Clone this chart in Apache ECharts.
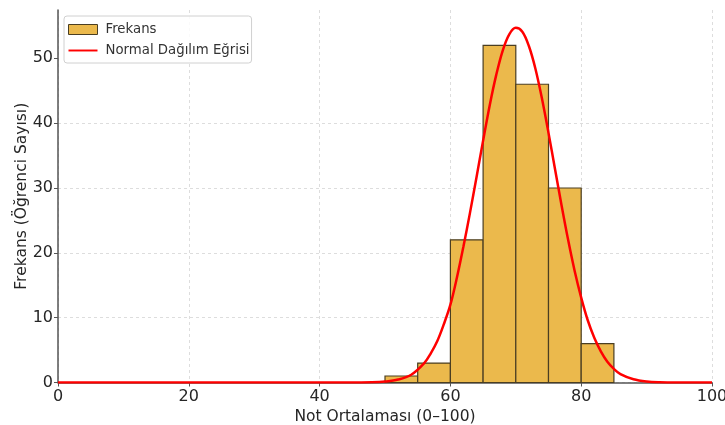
<!DOCTYPE html>
<html>
<head>
<meta charset="utf-8">
<script src="https://cdn.jsdelivr.net/npm/echarts@6/dist/echarts.min.js"></script>
<style>
html,body{margin:0;padding:0;background:#fff;overflow:hidden;}
#chart{width:725px;height:425px;}
</style>
</head>
<body>
<div id="chart"></div>
<script>
// Histogram bins (edges) and counts
const binEdges = [50, 55, 60, 65, 70, 75, 80, 85];
const counts = [1, 3, 22, 52, 46, 30, 6];

// Normal curve points
const curveX = [0, 10, 20, 30, 40, 45, 48, 50, 52, 54, 56, 57, 58, 59, 60, 61, 62, 63, 64, 65, 66, 67, 68, 69, 70, 71, 72, 73, 74, 75, 76, 77, 78, 79, 80, 81, 82, 83, 84, 85, 86, 88, 90, 92, 95, 100];
const curveY = [0, 0, 0, 0, 0, 0.01, 0.04, 0.15, 0.45, 1.2, 3.0, 4.5, 6.4, 9.0, 12.0, 16.2, 21.0, 26.2, 31.7, 37.3, 42.7, 47.4, 51.2, 53.7, 54.7, 54.1, 51.9, 48.4, 43.8, 38.5, 32.9, 27.3, 22.0, 17.2, 13.1, 9.6, 6.9, 4.8, 3.2, 2.1, 1.3, 0.5, 0.16, 0.05, 0.01, 0];

const xTicks = [0, 20, 40, 60, 80, 100];
const yTicks = [0, 10, 20, 30, 40, 50];

const histData = counts.map((c, i) => [binEdges[i], binEdges[i + 1], c]);
const curveData = curveX.map((x, i) => [x, curveY[i]]);

const chart = echarts.init(document.getElementById('chart'), null, {renderer: 'canvas', width: 725, height: 425});
const FONT = 'DejaVu Sans';
const TXT = '#262626';

chart.setOption({
  animation: false,
  backgroundColor: '#ffffff',
  textStyle: {fontFamily: FONT},
  grid: {left: 58, right: 13, top: 10, bottom: 42.5, containLabel: false, outerBoundsMode: 'none'},
  legend: {
    orient: 'vertical',
    left: 64, top: 16,
    padding: [7, 2, 6, 4],
    itemWidth: 29, itemHeight: 10, itemGap: 8,
    backgroundColor: 'rgba(255,255,255,0.85)',
    borderColor: '#d0d0d0', borderWidth: 1, borderRadius: 3,
    textStyle: {fontFamily: FONT, fontSize: 13.3, color: '#333', padding: [0, 0, 0, 3]},
    data: [
      {name: 'Frekans', icon: 'rect', itemStyle: {borderWidth: 1}},
      {name: 'Normal Dağılım Eğrisi', icon: 'path://M0,4 L30,4 L30,6 L0,6 Z'}
    ]
  },
  xAxis: {
    type: 'value', min: 0, max: 100, interval: 20,
    name: 'Not Ortalaması (0–100)', nameLocation: 'middle', nameGap: 26,
    nameMoveOverlap: false,
    nameTextStyle: {fontFamily: FONT, fontSize: 15.5, color: TXT},
    axisLine: {show: true, onZero: false, lineStyle: {color: '#555', width: 1.5}},
    axisTick: {show: true, length: 4, lineStyle: {color: '#555'}, customValues: xTicks},
    axisLabel: {fontFamily: FONT, fontSize: 16, color: TXT, margin: 6, customValues: xTicks},
    splitLine: {show: true, lineStyle: {color: '#d5d5d5', type: [3, 3], width: 0.8}}
  },
  yAxis: {
    type: 'value', min: 0, max: 57.45, interval: 10,
    name: 'Frekans (Öğrenci Sayısı)', nameLocation: 'middle', nameGap: 28,
    nameMoveOverlap: false,
    nameTextStyle: {fontFamily: FONT, fontSize: 15.5, color: TXT},
    axisLine: {show: true, lineStyle: {color: '#555', width: 1.5}},
    axisTick: {show: true, length: 4, lineStyle: {color: '#555'}, customValues: yTicks},
    axisLabel: {fontFamily: FONT, fontSize: 16, color: TXT, margin: 5, customValues: yTicks},
    splitLine: {show: true, showMaxLine: false, lineStyle: {color: '#d5d5d5', type: [3, 3], width: 0.8}}
  },
  series: [
    {
      name: 'Frekans',
      type: 'custom',
      data: histData,
      encode: {x: [0, 1], y: 2},
      itemStyle: {color: '#EBB94C', borderColor: '#4a3e22', borderWidth: 1.2},
      renderItem: function (params, api) {
        const p0 = api.coord([api.value(0), 0]);
        const p1 = api.coord([api.value(1), api.value(2)]);
        return {
          type: 'rect',
          shape: {x: p0[0], y: p1[1], width: p1[0] - p0[0], height: p0[1] - p1[1]},
          style: {fill: '#EBB94C', stroke: '#4a3e22', lineWidth: 1.2}
        };
      },
      z: 2
    },
    {
      name: 'Normal Dağılım Eğrisi',
      type: 'line',
      data: curveData,
      smooth: 0.35,
      showSymbol: false,
      symbol: 'none',
      itemStyle: {color: '#ff0000'},
      lineStyle: {color: '#ff0000', width: 2.5},
      z: 3
    }
  ]
});
</script>
</body>
</html>
